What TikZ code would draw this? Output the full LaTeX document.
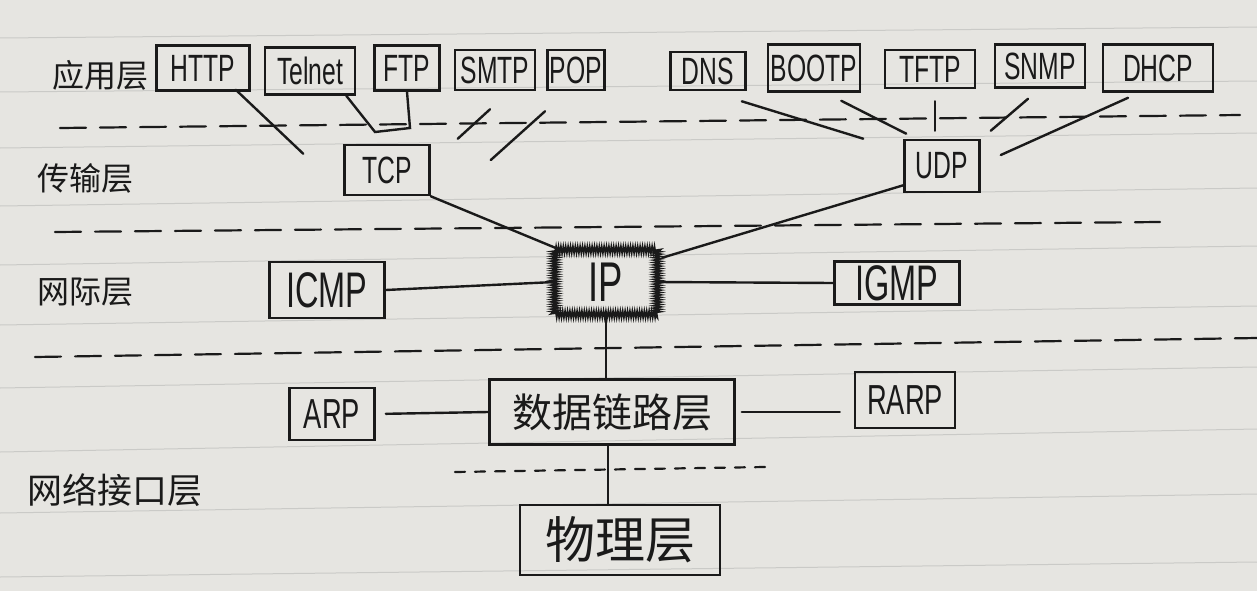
\documentclass[tikz,border=0pt]{standalone}
\usepackage{fontspec}
\setmainfont{Liberation Sans}
\newfontfamily\hand{Liberation Sans}[FakeStretch=0.65]
\newfontfamily\cjk{Noto Sans CJK SC}
\usetikzlibrary{calc,decorations.pathmorphing}
\definecolor{paper}{HTML}{E6E5E1}
\definecolor{ruled}{HTML}{CACAC7}
\definecolor{ink}{HTML}{1A1A1A}
\begin{document}
\begin{tikzpicture}[x=1pt,y=-1pt,
  box/.style={draw=ink,line width=2.6pt,inner sep=0pt,text=ink,font=\hand\fontsize{38}{38}\selectfont},
  bigbox/.style={box,font=\hand\fontsize{50}{50}\selectfont},
  cjkbox/.style={box,font=\cjk\fontsize{40}{40}\selectfont},
  layer/.style={text=ink,inner sep=0pt,font=\cjk\fontsize{32}{32}\selectfont},
  conn/.style={draw=ink,line width=2.4pt,line cap=round},
  sep/.style={draw=ink,line width=2.2pt,dash pattern=on 26pt off 14pt,line cap=round},
  rule/.style={draw=ruled,line width=1pt}]
\fill[paper] (0,0) rectangle (1257,591);
\useasboundingbox (0,0) rectangle (1257,591);
% notebook ruling
\foreach \a/\b in {38/27,92/81,148/133,206/188,265/246,325/306,388/367,452/429,513/494,577/562}
  \draw[rule] (0,\a) -- (1257,\b);
% layer separators
\draw[sep] (60,128) -- (1240,115);
\draw[sep] (55,232) -- (1160,222);
\draw[sep] (35,357) -- (1257,338);
\draw[sep,dash pattern=on 10pt off 10pt] (455,472) -- (765,467);
% layer names
\node[layer] (lapp) at (100,75) {应用层};
\node[layer] (ltrans) at (85,178) {传输层};
\node[layer] (lnet) at (85,292) {网际层};
\node[layer,font=\cjk\fontsize{35}{35}\selectfont] (lif) at (115,490) {网络接口层};
% application protocols
\node[box,minimum width=93pt,minimum height=45pt] (http) at (203,68) {HTTP};
\node[box,minimum width=90pt,minimum height=47pt] (telnet) at (310,71) {Telnet};
\node[box,minimum width=65pt,minimum height=45pt] (ftp) at (407,68) {FTP};
\node[box,minimum width=80pt,minimum height=40pt] (smtp) at (495,70) {SMTP};
\node[box,minimum width=57pt,minimum height=40pt] (pop) at (576,70) {POP};
\node[box,minimum width=75pt,minimum height=38pt] (dns) at (708,71) {DNS};
\node[box,minimum width=92pt,minimum height=47pt] (bootp) at (814,68) {BOOTP};
\node[box,minimum width=90pt,minimum height=38pt] (tftp) at (930,69) {TFTP};
\node[box,minimum width=90pt,minimum height=43pt] (snmp) at (1040,66) {SNMP};
\node[box,minimum width=110pt,minimum height=47pt] (dhcp) at (1158,68) {DHCP};
% transport
\node[box,minimum width=85pt,minimum height=50pt] (tcp) at (387,170) {TCP};
\node[box,minimum width=75pt,minimum height=52pt] (udp) at (942,166) {UDP};
% internet
\node[bigbox,minimum width=115pt,minimum height=56pt] (icmp) at (327,290) {ICMP};
\node[bigbox,draw=none,minimum width=100pt,minimum height=62pt,font=\hand\fontsize{56}{56}\selectfont] (ip) at (606,282) {IP};
\draw[ink,line width=1.5pt,decorate,decoration={zigzag,segment length=2.4pt,amplitude=3.8pt}]
  (ip.north west) rectangle (ip.south east);
\node[bigbox,minimum width=125pt,minimum height=43pt] (igmp) at (897,283) {IGMP};
% network interface
\node[box,minimum width=85pt,minimum height=52pt,font=\hand\fontsize{42}{42}\selectfont] (arp) at (332,414) {ARP};
\node[cjkbox,minimum width=245pt,minimum height=65pt] (dll) at (612,412) {数据链路层};
\node[box,minimum width=100pt,minimum height=56pt,font=\hand\fontsize{42}{42}\selectfont] (rarp) at (905,400) {RARP};
\node[cjkbox,minimum width=200pt,minimum height=70pt,font=\cjk\fontsize{50}{50}\selectfont] (phy) at (620,540) {物理层};
% application -> TCP
\draw[conn] ($(http.south east)+(-15,-2)$) -- ($(tcp.north west)+(-40,10)$);
\coordinate (tj) at (375,132);
\coordinate (fj) at (410,128);
\draw[conn] ($(telnet.south east)+(-10,0)$) -- (tj) -- (fj) -- (ftp.south);
\draw[conn] ($(smtp.south)+(-5,18)$) -- ($(tcp.north east)+(27,-5)$);
\draw[conn] ($(pop.south)+(-31,20)$) -- ($(tcp.east)+(60,-10)$);
% application -> UDP
\draw[conn] ($(dns.south east)+(-5,10)$) -- ($(udp.north west)+(-40,0)$);
\draw[conn] ($(bootp.south east)+(-20,8)$) -- ($(udp.north west)+(3,-5)$);
\draw[conn] ($(tftp.south)+(5,12)$) -- ($(udp.north)+(-7,-8)$);
\draw[conn] ($(snmp.south)+(-12,10)$) -- ($(udp.north east)+(10,-8)$);
\draw[conn] ($(dhcp.south)+(-30,5)$) -- ($(udp.east)+(20,-11)$);
% transport -> IP
\draw[conn] (tcp.south east) -- ($(ip.north west)+(10,2)$);
\draw[conn] ($(udp.south west)+(0,-8)$) -- ($(ip.north east)+(5,8)$);
% internet layer
\draw[conn] (icmp.east) -- (ip.west);
\draw[conn] (ip.east) -- (igmp.west);
\draw[conn] (ip.south) -- (ip.south |- dll.north);
% network interface layer
\draw[conn,shorten <=10pt] (arp.east) -- (dll.west);
\draw[conn,shorten <=6pt,shorten >=14pt] (dll.east) -- (dll.east -| rarp.west);
\draw[conn] ($(dll.south)+(-4,0)$) -- ($(dll.south |- phy.north)+(-4,0)$);
\end{tikzpicture}
\end{document}
